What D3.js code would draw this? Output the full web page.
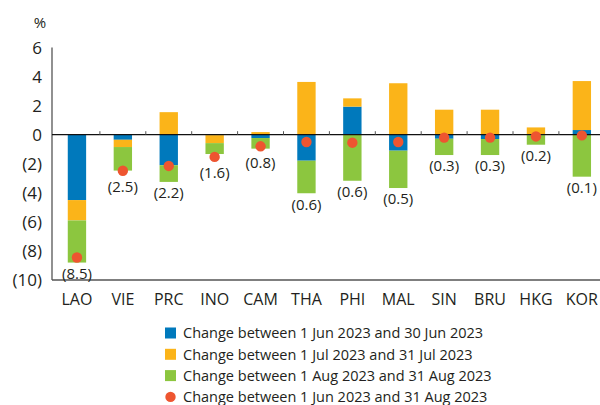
<!DOCTYPE html>
<html>
<head>
<meta charset="utf-8">
<script src="https://cdn.jsdelivr.net/npm/d3@7"></script>
<style>
  html, body { margin: 0; padding: 0; background: #fff; }
  svg { display: block; font-family: "Open Sans", sans-serif; }
</style>
</head>
<body>
<svg id="chart" width="600" height="405"></svg>
<script>
const categories = ["LAO","VIE","PRC","INO","CAM","THA","PHI","MAL","SIN","BRU","HKG","KOR"];
const junChange = [-4.5, -0.35, -2.1, -0.03, -0.23, -1.79, 1.93, -1.1, -0.28, -0.3, -0.03, 0.32];
const julChange = [-1.4, -0.5, 1.55, -0.55, 0.18, 3.63, 0.57, 3.54, 1.72, 1.72, 0.5, 3.37];
const augChange = [-2.9, -1.62, -1.15, -0.75, -0.73, -2.24, -3.17, -2.57, -1.12, -1.1, -0.66, -2.89];
const totalChange = [-8.45, -2.48, -2.15, -1.53, -0.8, -0.5, -0.55, -0.5, -0.2, -0.2, -0.12, -0.05];
const totalLabels = ["(8.5)","(2.5)","(2.2)","(1.6)","(0.8)","(0.6)","(0.6)","(0.5)","(0.3)","(0.3)","(0.2)","(0.1)"];
const yTicks = [6, 4, 2, 0, -2, -4, -6, -8, -10];
const seriesNames = [
  "Change between 1 Jun 2023 and 30 Jun 2023",
  "Change between 1 Jul 2023 and 31 Jul 2023",
  "Change between 1 Aug 2023 and 31 Aug 2023",
  "Change between 1 Jun 2023 and 31 Aug 2023"
];
const colors = ["#0079BC", "#FBB419", "#8CC63F", "#EE5530"];

const svg = d3.select("#chart");
const textColor = "#231F20";

const x = d3.scaleBand().domain(categories).range([54, 604.8]).paddingInner(0.6).paddingOuter(0.3);
const y = d3.scaleLinear().domain([-10, 6]).range([280, 47.5]);

const rows = categories.map((c, i) => ({cat: c, jun: junChange[i], jul: julChange[i], aug: augChange[i]}));
const stack = d3.stack().keys(["jun","jul","aug"]).offset(d3.stackOffsetDiverging);
const series = stack(rows);

// y axis labels
const fmt = d => d < 0 ? `(${-d})` : `${d}`;
svg.append("g").selectAll("text").data(yTicks).join("text")
  .attr("x", 42).attr("y", d => y(d)).attr("dy", "0.36em")
  .attr("text-anchor", "end").attr("font-size", 17).attr("fill", textColor)
  .text(fmt);
svg.append("text").attr("x", 40).attr("y", 23).attr("dy", "0.36em")
  .attr("text-anchor", "middle").attr("font-size", 15).attr("fill", textColor).text("%");

// bars
svg.append("g").selectAll("g").data(series).join("g")
  .attr("fill", (d, i) => colors[i])
  .selectAll("rect").data(d => d).join("rect")
  .attr("x", d => x(d.data.cat))
  .attr("width", x.bandwidth())
  .attr("y", d => y(Math.max(d[0], d[1])))
  .attr("height", d => Math.abs(y(d[0]) - y(d[1])));

// axes lines
svg.append("line").attr("x1", 52).attr("x2", 52).attr("y1", y(6)).attr("y2", y(-10))
  .attr("stroke", "#555").attr("stroke-width", 1.3);
svg.append("line").attr("x1", 52).attr("x2", 600).attr("y1", y(-10)).attr("y2", y(-10))
  .attr("stroke", "#555").attr("stroke-width", 1.5);
svg.append("line").attr("x1", 52).attr("x2", 600).attr("y1", y(0)).attr("y2", y(0))
  .attr("stroke", "#111").attr("stroke-width", 1.3);
// category boundary ticks on zero line
svg.append("g").selectAll("line").data(categories.slice(1)).join("line")
  .attr("x1", d => x(d) - x.step() * 0.3).attr("x2", d => x(d) - x.step() * 0.3)
  .attr("y1", y(0)).attr("y2", y(0) - 3.5)
  .attr("stroke", "#555").attr("stroke-width", 1);

// x labels
svg.append("g").selectAll("text").data(categories).join("text")
  .attr("x", d => x(d) + x.bandwidth() / 2).attr("y", 299).attr("dy", "0.36em")
  .attr("text-anchor", "middle").attr("font-size", 16).attr("fill", textColor)
  .text(d => d);

// dots
svg.append("g").selectAll("circle").data(totalChange).join("circle")
  .attr("cx", (d, i) => x(categories[i]) + x.bandwidth() / 2)
  .attr("cy", d => y(d)).attr("r", 5.2).attr("fill", colors[3]);

// total labels under bars
const minStack = categories.map((c, i) => d3.min(series, s => s[i][0]));
svg.append("g").selectAll("text").data(totalLabels).join("text")
  .attr("x", (d, i) => x(categories[i]) + x.bandwidth() / 2)
  .attr("y", (d, i) => Math.max(y(minStack[i]), y(totalChange[i]) + 5) + 11)
  .attr("dy", "0.36em").attr("text-anchor", "middle").attr("font-size", 15)
  .attr("fill", textColor).text(d => d);

// legend
const lg = svg.append("g").selectAll("g").data(seriesNames).join("g")
  .attr("transform", (d, i) => `translate(165, ${333 + i * 21.3})`);
lg.filter((d, i) => i < 3).append("rect").attr("x", 0).attr("y", -5.5).attr("width", 11).attr("height", 11)
  .attr("fill", (d, i) => colors[i]);
lg.filter((d, i) => i === 3).append("circle").attr("cx", 5.5).attr("cy", 0).attr("r", 5.2).attr("fill", colors[3]);
lg.append("text").attr("x", 18).attr("y", 0).attr("dy", "0.36em").attr("font-size", 14.5)
  .attr("fill", textColor).text(d => d);
</script>
</body>
</html>
